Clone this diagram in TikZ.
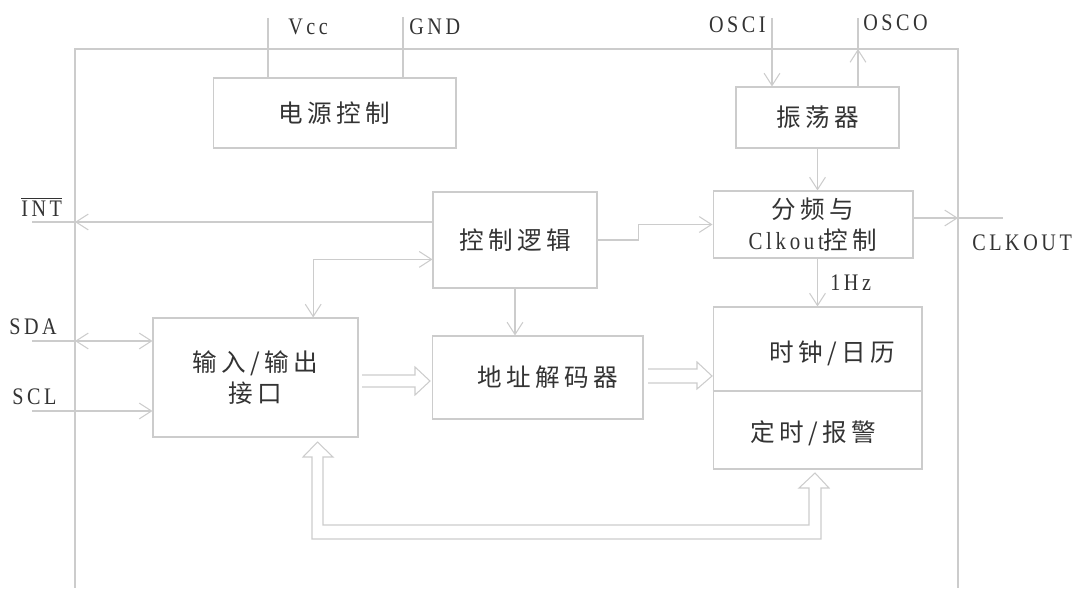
\documentclass[tikz,border=0pt]{standalone}
\usepackage{fontspec}
\setmainfont{Liberation Serif}
\newfontfamily\cjk[LetterSpace=18]{Noto Sans CJK SC}
\newfontfamily\pinfont[LetterSpace=15,FakeStretch=0.85]{Liberation Serif}
\usetikzlibrary{arrows.meta,calc}

\definecolor{linegray}{HTML}{CCCCCC}
\definecolor{textgray}{HTML}{333333}

\tikzset{
  box/.style={draw=linegray, line width=0.6pt, inner sep=0pt, text=textgray,
    font=\cjk\fontsize{14}{18}\selectfont, align=center},
  conn/.style={draw=linegray, line width=0.6pt,
    >={Straight Barb[length=7pt,width=9pt]}},
  bus/.style={draw=linegray, line width=0.6pt, line join=miter},
  pin/.style={text=textgray, font=\pinfont\fontsize{13.5}{15}\selectfont, inner sep=0pt},
  txt/.style={text=textgray, font=\cjk\fontsize{14}{18}\selectfont, inner sep=0pt},
}

\begin{document}
\begin{tikzpicture}[x=0.02cm, y=-0.02cm]
  \useasboundingbox (0,0) rectangle (1078,590);

  % chip outline
  \coordinate (ftl) at (75,49);
  \coordinate (ftr) at (958,49);
  \draw[conn] (75,588) -- (ftl) -- (ftr) -- (958,588);

  % blocks
  \node[box, minimum width=4.86cm, minimum height=1.40cm] (power) at (334.5,113) {电源控制};
  \node[box, minimum width=3.26cm, minimum height=1.22cm] (osc) at (817.5,117.5) {振荡器};
  \node[box, minimum width=4.00cm, minimum height=1.34cm] (div) at (813,224.5)
    {分频与\\{\pinfont Clkout}控制};
  \node[box, minimum width=3.28cm, minimum height=1.92cm] (logic) at (515,240) {控制逻辑};
  \node[box, minimum width=4.10cm, minimum height=2.38cm] (io) at (255.5,377.5) {输入/输出\\接口};
  \node[box, minimum width=4.22cm, minimum height=1.66cm] (addr) at (537.5,377.5) {\hspace{0.4cm}地址解码器};
  \node[box, minimum width=4.18cm, minimum height=3.24cm] (rtc) at (817.5,388) {};
  \draw[conn] ($(rtc.west)+(0,3)$) -- ($(rtc.east)+(0,3)$);
  \node[txt] (clock) at (832,353) {时钟/日历};
  \node[txt] (alarm) at (813,433) {定时/报警};

  % pins
  \coordinate (vcc) at (268,18);
  \coordinate (gnd) at (403,17);
  \coordinate (osci) at (772,18);
  \coordinate (osco) at (858,18);
  \coordinate (int) at (32,222);
  \coordinate (sda) at (32,341);
  \coordinate (scl) at (32,411);
  \coordinate (clkout) at (1003,218);

  \node[pin, anchor=west] (vcclabel) at (288,27) {Vcc};
  \node[pin, anchor=west] (gndlabel) at (409,27) {GND};
  \node[pin, anchor=east] (oscilabel) at (766,25) {OSCI};
  \node[pin, anchor=west] (oscolabel) at (863,23) {OSCO};
  \node[pin, anchor=west] (intlabel) at (21,207) {$\overline{\hbox{\pinfont INT}}$};
  \node[pin, anchor=west] (sdalabel) at (9,327) {SDA};
  \node[pin, anchor=west] (scllabel) at (12,397) {SCL};
  \node[pin, anchor=west] (clkoutlabel) at (972,243) {CLKOUT};

  \draw[conn] (vcc) -- (vcc |- power.north);
  \draw[conn] (gnd) -- (gnd |- power.north);
  \draw[conn, ->] (osci) -- (osci |- osc.north);
  \draw[conn, ->] (osco |- osc.north) -- (osco |- ftl);
  \draw[conn] (osco |- ftl) -- (osco);
  \draw[conn, ->] (osc.south) -- (osc.south |- div.north);
  \draw[conn, ->] (osc.south |- div.south) -- (osc.south |- rtc.north)
    node[pin, midway, right=7pt] (hz) {1Hz};
  \draw[conn, ->] (div.east |- clkout) -- (clkout -| ftr);
  \draw[conn] (clkout -| ftr) -- (clkout);
  \draw[conn, ->] (logic.east) -- ++(41,0) |- (div.west);
  \draw[conn, ->] (logic.west |- int) -- (int -| ftl);
  \draw[conn] (int -| ftl) -- (int);
  \draw[conn, <->] ($(logic.south west)!0.3!(logic.north west)$)
    -| ($(io.north west)!0.78!(io.north east)$);
  \draw[conn, ->] (logic.south) -- (logic.south |- addr.north);
  \draw[conn, <->] (sda -| ftl) -- (io.west |- sda);
  \draw[conn] (sda) -- (sda -| ftl);
  \draw[conn, ->] (scl) -- (io.west |- scl);

  % data buses
  \draw[bus] (362,375) -- (415,375) -- (415,367) -- (430,381) -- (415,395) -- (415,387) -- (362,387);
  \draw[bus] (648,369) -- (697,369) -- (697,362) -- (712,376) -- (697,389) -- (697,383) -- (648,383);
  \draw[bus] (303,457) -- (312,457) -- (312,539) -- (821,539) -- (821,488) -- (829,488)
    -- (815,473) -- (799,488) -- (809,488) -- (809,525) -- (323,525) -- (323,457)
    -- (333,457) -- (317.5,442) -- cycle;
\end{tikzpicture}
\end{document}
